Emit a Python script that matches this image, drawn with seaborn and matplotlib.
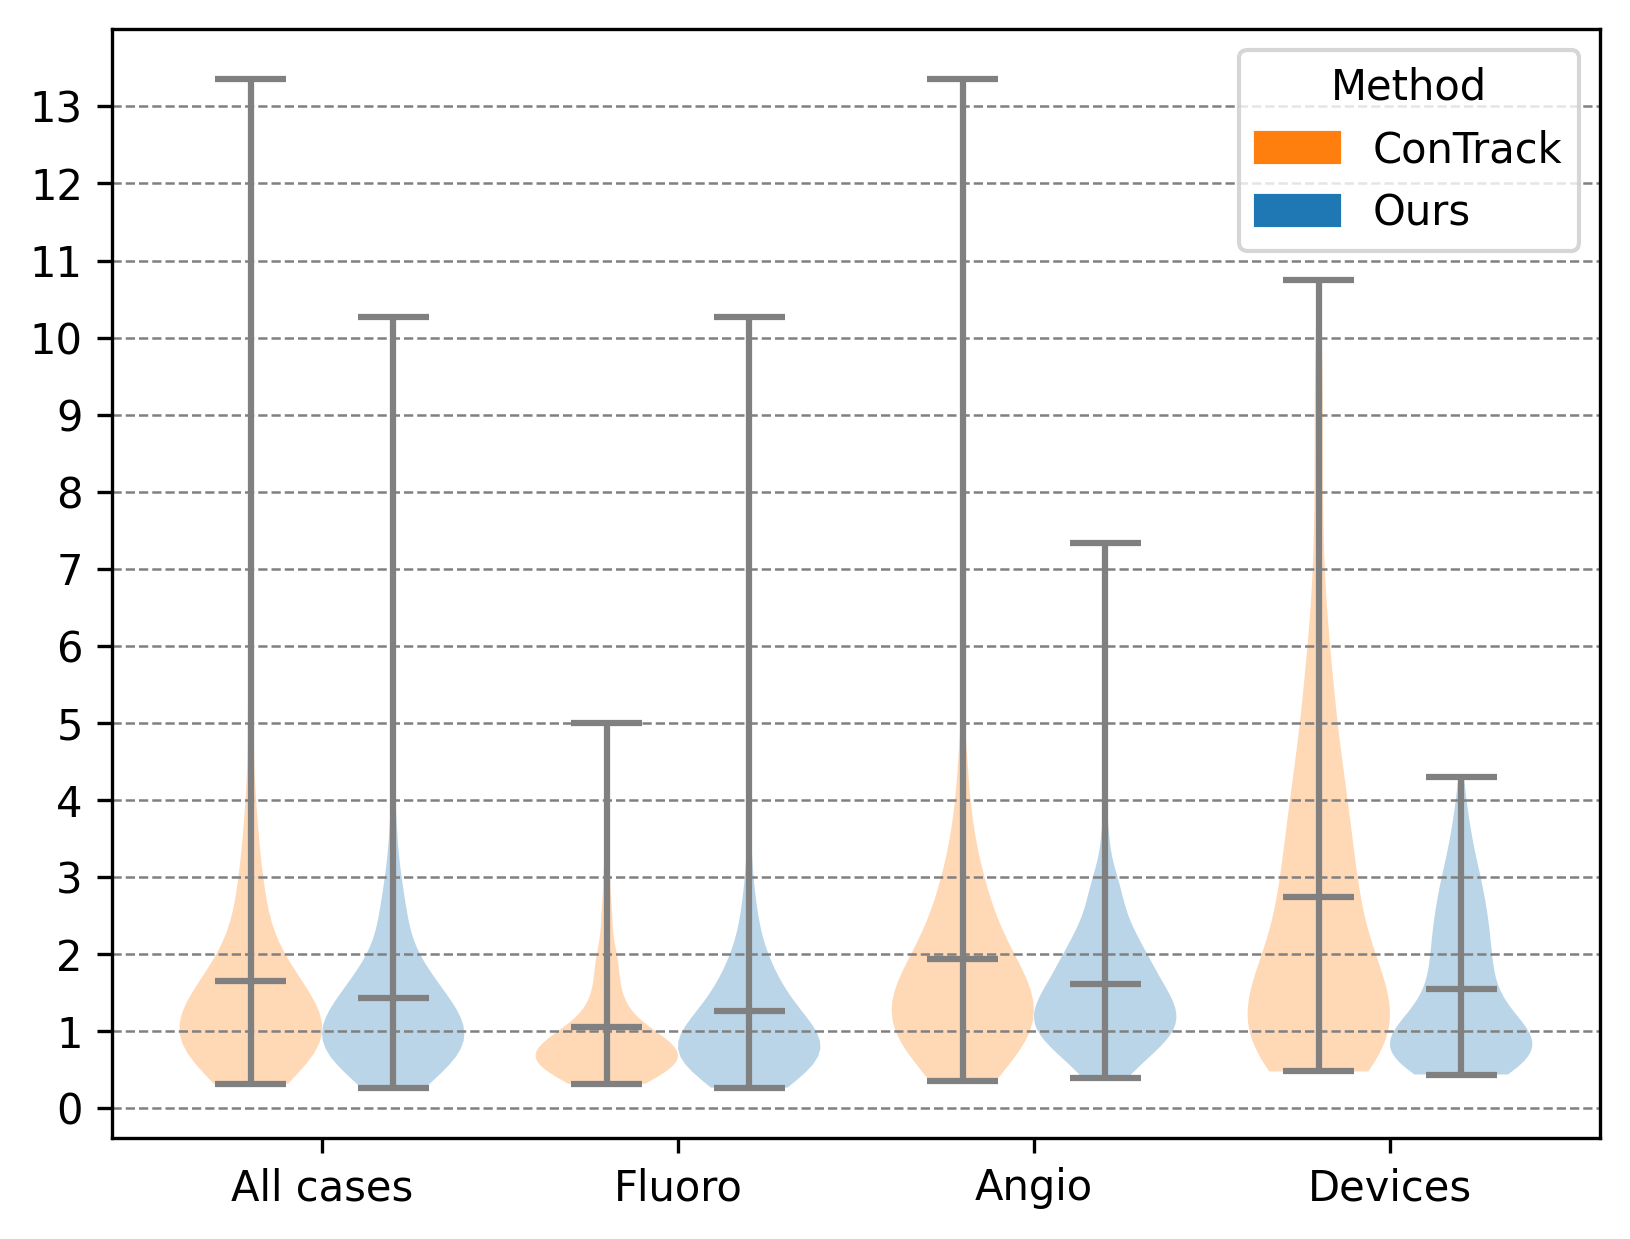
import numpy as np
import pandas as pd
import matplotlib
matplotlib.use("Agg")
import matplotlib.pyplot as plt
from matplotlib.patches import Patch
import seaborn as sns

cases = ["All cases", "Fluoro", "Angio", "Devices"]
methods = ["ConTrack", "Ours"]
y_ticks = list(range(14))

# error values and how often each one occurs
all_contrack_vals = [0.32, 0.5, 0.75, 1.0, 1.25, 1.5, 1.75, 2.0, 2.5, 3.0, 3.5, 4.0, 4.5, 5.0, 5.5, 6.0, 10.0, 13.35]
all_contrack_cnts = [6, 19, 30, 32, 26, 20, 15, 12, 12, 8, 5, 4, 1, 3, 1, 2, 1, 1]
all_ours_vals = [0.27, 0.5, 0.75, 1.0, 1.25, 1.5, 1.75, 2.0, 2.5, 3.0, 3.5, 4.0, 5.0, 6.0, 7.0, 8.0, 10.27]
all_ours_cnts = [8, 24, 33, 34, 28, 20, 14, 11, 12, 6, 3, 2, 1, 1, 1, 1, 1]

fluoro_contrack_vals = [0.32, 0.45, 0.6, 0.75, 0.9, 1.05, 1.25, 1.5, 1.75, 2.0, 2.5, 3.0, 3.5, 4.0, 5.0]
fluoro_contrack_cnts = [8, 17, 29, 26, 18, 10, 8, 7, 5, 7, 5, 3, 2, 1, 1]
fluoro_ours_vals = [0.27, 0.45, 0.6, 0.75, 0.9, 1.05, 1.25, 1.5, 1.75, 2.0, 2.5, 3.0, 3.5, 4.5, 5.0, 6.0, 7.0, 8.0, 10.27]
fluoro_ours_cnts = [8, 20, 26, 26, 24, 20, 18, 16, 11, 10, 8, 3, 2, 1, 1, 1, 1, 1, 1]

angio_contrack_vals = [0.35, 0.6, 0.85, 1.1, 1.35, 1.6, 1.85, 2.1, 2.4, 2.75, 3.0, 3.5, 4.0, 4.5,
                       5.0, 6.0, 7.0, 8.0, 9.0, 10.0, 12.0, 13.35]
angio_contrack_cnts = [8, 15, 25, 28, 26, 22, 18, 14, 12, 10, 9, 7, 4, 3, 1, 1, 1, 1, 1, 1, 1, 1]
angio_ours_vals = [0.39, 0.6, 0.85, 1.1, 1.35, 1.6, 1.85, 2.1, 2.4, 2.75, 3.0, 3.5, 4.0, 4.5, 5.0, 6.0, 7.34]
angio_ours_cnts = [7, 12, 25, 32, 28, 22, 18, 16, 12, 8, 6, 3, 1, 1, 1, 1, 1]

devices_contrack_vals = [0.48, 0.75, 1.0, 1.25, 1.5, 1.75, 2.0, 2.5, 3.0, 3.5, 4.0, 4.5, 5.0, 5.5,
                         6.0, 6.5, 7.0, 7.5, 8.0, 8.5, 9.0, 9.5, 10.0, 10.75]
devices_contrack_cnts = [22, 23, 21, 20, 19, 17, 16, 22, 19, 16, 15, 11, 9, 7, 6, 3, 3, 2, 2, 2, 2, 2, 2, 1]
devices_ours_vals = [0.44, 0.6, 0.8, 1.0, 1.25, 1.5, 1.75, 2.0, 2.25, 2.5, 2.75, 3.0, 3.25, 3.5, 3.75, 4.0, 4.3]
devices_ours_cnts = [14, 17, 23, 22, 15, 11, 10, 10, 9, 9, 7, 7, 4, 4, 2, 2, 1]

groups = [
    ("All cases", "ConTrack", all_contrack_vals, all_contrack_cnts),
    ("All cases", "Ours", all_ours_vals, all_ours_cnts),
    ("Fluoro", "ConTrack", fluoro_contrack_vals, fluoro_contrack_cnts),
    ("Fluoro", "Ours", fluoro_ours_vals, fluoro_ours_cnts),
    ("Angio", "ConTrack", angio_contrack_vals, angio_contrack_cnts),
    ("Angio", "Ours", angio_ours_vals, angio_ours_cnts),
    ("Devices", "ConTrack", devices_contrack_vals, devices_contrack_cnts),
    ("Devices", "Ours", devices_ours_vals, devices_ours_cnts),
]

rows = []
for case, method, vals, cnts in groups:
    for v in np.repeat(vals, cnts):
        rows.append({"case": case, "method": method, "error": v})
df = pd.DataFrame(rows)

colors = {"ConTrack": "C1", "Ours": "C0"}

fig, ax = plt.subplots(figsize=(1630 / 300, 1239 / 300), dpi=300)
fig.subplots_adjust(left=0.0687, right=0.9816, top=0.9766, bottom=0.0815)

sns.violinplot(data=df, x="case", y="error", hue="method", order=cases, hue_order=methods,
               palette=colors, saturation=1, cut=0, inner=None, density_norm="width", width=0.8,
               bw_adjust=0.85, linewidth=0, legend=False, ax=ax)
for c in ax.collections:
    c.set_alpha(0.3)
    c.set_edgecolor("none")

# extrema and mean bars, like plt.violinplot(showmeans=True)
stats = df.groupby(["case", "method"])["error"].agg(["min", "mean", "max"])
for i, case in enumerate(cases):
    for j, method in enumerate(methods):
        pos = i + (-0.2 if j == 0 else 0.2)
        s = stats.loc[(case, method)]
        ax.vlines(pos, s["min"], s["max"], color="gray", lw=1.5)
        ax.hlines([s["min"], s["mean"], s["max"]], pos - 0.1, pos + 0.1, color="gray", lw=1.5)

lo, hi = df["error"].min(), df["error"].max()
pad = 0.05 * (hi - lo)
ax.set_ylim(lo - pad, hi + pad)
ax.set_xlim(-0.59, 3.59)
ax.set_yticks(y_ticks)
ax.yaxis.grid(True, linestyle="--", color="gray", lw=0.6)
ax.xaxis.grid(False)
ax.set_xlabel("")
ax.set_ylabel("")

handles = [Patch(color=colors[m], label=m) for m in methods]
ax.legend(handles=handles, title="Method", loc="upper right")

plt.savefig("out.png", dpi=300)
